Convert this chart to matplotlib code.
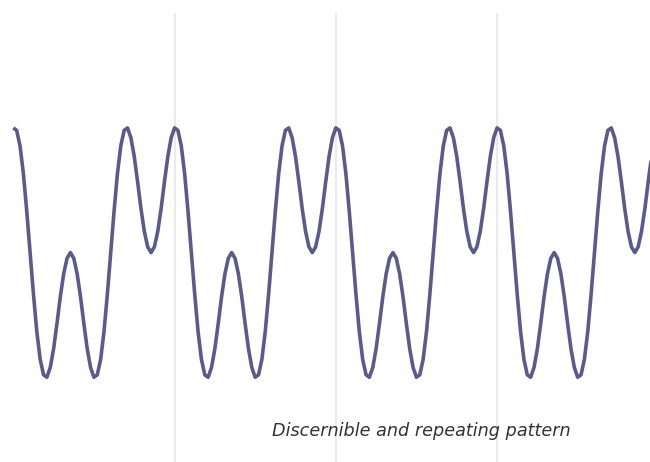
import matplotlib
matplotlib.use("Agg")
import matplotlib.pyplot as plt

# One cycle of the repeating pattern (48 samples per cycle)
cycle = [1.53, 1.50, 1.31, 0.97, 0.51, 0.00, -0.51, -0.97, -1.31, -1.50,
         -1.53, -1.41, -1.18, -0.87, -0.54, -0.26, -0.07, 0.00, -0.07, -0.26,
         -0.54, -0.87, -1.18, -1.41, -1.53, -1.50, -1.31, -0.97, -0.51, 0.00,
         0.51, 0.97, 1.31, 1.50, 1.53, 1.41, 1.18, 0.87, 0.54, 0.26,
         0.07, 0.00, 0.07, 0.26, 0.54, 0.87, 1.18, 1.41]
values = cycle + cycle + cycle + cycle + [cycle[0]]
times = [i / len(cycle) for i in range(len(values))]
grid_ticks = [1, 2, 3]
annotation = "Discernible and repeating pattern"

fig = plt.figure(figsize=(6.5, 4.62), dpi=100)
ax = fig.add_axes([0, 0, 1, 449 / 462])
ax.plot(times, values, color="#5b5a8e", lw=2.6, solid_capstyle="butt",
        solid_joinstyle="round", zorder=3)
ax.set_xlim(-0.0825, 3.9485)
ax.set_ylim(-2.57, 2.94)
ax.set_xticks(grid_ticks)
ax.set_yticks([])
ax.grid(axis="x", color="#ebebeb", lw=1.5)
ax.tick_params(length=0, labelbottom=False)
for s in ax.spines.values():
    s.set_visible(False)
ax.text(2.528, -2.19, annotation, ha="center", va="center",
        fontsize=12.7, style="italic", color="#333333")
fig.savefig("out.png", dpi=100)
